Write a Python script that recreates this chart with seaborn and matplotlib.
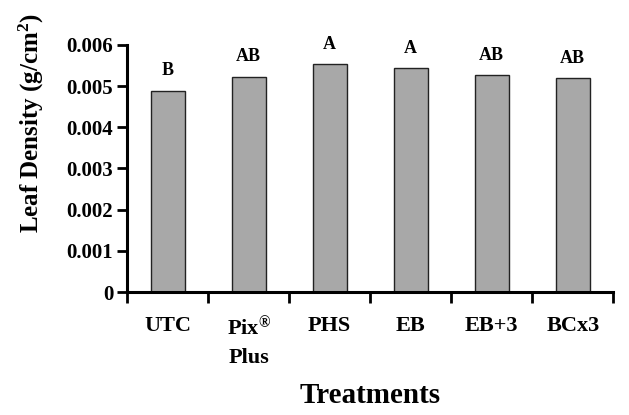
import matplotlib
matplotlib.use("Agg")
import matplotlib.pyplot as plt
import seaborn as sns
import pandas as pd
import numpy as np

treatments = ["UTC", "Pix$^{\\mathbf{®}}$\nPlus", "PHS", "EB", "EB+3", "BCx3"]
density = [0.00489, 0.00523, 0.00553, 0.00544, 0.00527, 0.00520]
letters = ["B", "AB", "A", "A", "AB", "AB"]
yticks = [0, 0.001, 0.002, 0.003, 0.004, 0.005, 0.006]
ytick_labels = ["0", "0.001", "0.002", "0.003", "0.004", "0.005", "0.006"]

sns.set_theme(style="white")
plt.rcParams['font.family'] = ['Liberation Serif', 'DejaVu Serif']
plt.rcParams['font.weight'] = 'bold'
plt.rcParams['mathtext.fontset'] = 'custom'
plt.rcParams['mathtext.rm'] = 'Liberation Serif:bold'
plt.rcParams['mathtext.bf'] = 'Liberation Serif:bold'
plt.rcParams['mathtext.it'] = 'Liberation Serif:bold'
for k in ["text.color", "axes.labelcolor", "xtick.color", "ytick.color"]:
    plt.rcParams[k] = "black"

df = pd.DataFrame({"Treatment": treatments, "Density": density})

fig = plt.figure(figsize=(6.29, 4.15), dpi=100)
ax = fig.add_axes([0.202, 0.296, 0.773, 0.596])

sns.barplot(data=df, x="Treatment", y="Density", ax=ax, color="#a8a8a8",
            width=0.42, edgecolor="#222222", linewidth=1.0, saturation=1)

for i, (v, l) in enumerate(zip(density, letters)):
    ax.annotate(l, (i, v), xytext=(0, 8), textcoords="offset points",
                ha="center", va="bottom", fontsize=13, fontweight="bold")

ax.set_ylim(0, 0.006)
ax.set_xlim(-0.5, 5.5)
ax.set_yticks(yticks)
ax.set_yticklabels(ytick_labels, fontsize=15, fontweight="bold")
ax.set_xticks(range(len(treatments)))
ax.set_xticklabels(treatments, fontsize=16, fontweight="bold", linespacing=1.45)
ax.set_xticks(np.arange(-0.5, 6.0, 1.0), minor=True)
ax.tick_params(axis="x", which="major", length=0, pad=17)
ax.tick_params(axis="x", which="minor", direction="out", length=8, width=2, color="black", bottom=True)
ax.tick_params(axis="y", direction="out", length=7, width=2, color="black", left=True, pad=3)

for s in ["top", "right"]:
    ax.spines[s].set_visible(False)
for s in ["left", "bottom"]:
    ax.spines[s].set_linewidth(2.2)
    ax.spines[s].set_color("black")

ax.set_xlabel("Treatments", fontsize=21, fontweight="bold")
ax.xaxis.set_label_coords(0.5, -0.365)
ax.set_ylabel("Leaf Density (g/cm$^{\\mathbf{2}}$)", fontsize=18, fontweight="bold")
ax.yaxis.set_label_coords(-0.167, 0.684)

fig.savefig("out.png", dpi=100)
